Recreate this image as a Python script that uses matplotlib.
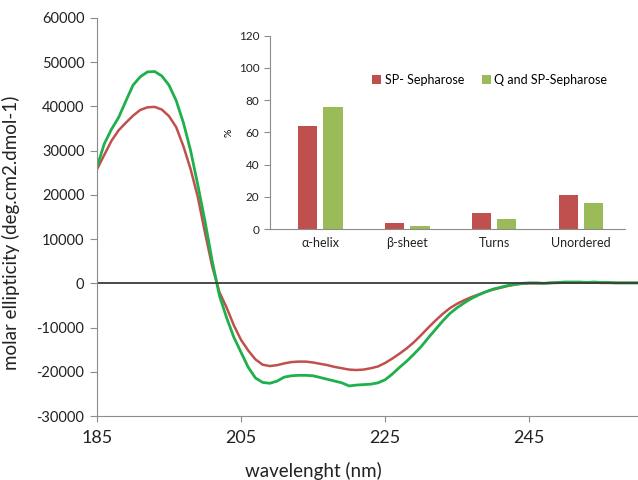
import numpy as np
import matplotlib
matplotlib.use("Agg")
import matplotlib.pyplot as plt

plt.rcParams['font.family'] = ['Lato', 'DejaVu Sans']
plt.rcParams['axes.unicode_minus'] = False

# CD spectra, 1 nm steps from 185 to 260 nm
wavelength = list(range(185, 261))
sp_sepharose = [
    25800, 29000, 32200, 34600, 36300, 37900, 39200, 39800, 39900, 39300,
    37800, 35300, 31000, 25800, 19500, 11400, 3800, -2000, -5500, -9500,
    -12800, -15200, -17200, -18400, -18700, -18500, -18100, -17800, -17700, -17700,
    -17900, -18200, -18500, -18900, -19200, -19500, -19600, -19500, -19200, -18800,
    -18000, -17000, -15900, -14700, -13300, -11700, -10000, -8400, -6900, -5600,
    -4600, -3800, -3100, -2500, -1900, -1400, -1000, -600, -300, -100,
    0, 0, 0, 100, 100, 200, 200, 200, 200, 200,
    100, 100, 100, 100, 100, 100]
q_sp_sepharose = [
    26300, 31500, 34800, 37500, 41200, 44800, 46700, 47800, 47900, 46900,
    44800, 41300, 36300, 30000, 22200, 14000, 5000, -2800, -7800, -12200,
    -15600, -19000, -21400, -22400, -22600, -22100, -21200, -20900, -20800, -20800,
    -20900, -21300, -21700, -22100, -22500, -23200, -23000, -22900, -22800, -22500,
    -21800, -20500, -19000, -17600, -16000, -14300, -12300, -10400, -8500, -6800,
    -5500, -4400, -3400, -2600, -1900, -1300, -900, -500, -200, 0,
    100, 100, 0, 100, 200, 300, 300, 300, 200, 300,
    200, 200, 100, 100, 100, 100]

# secondary structure content (%)
structures = ['\u03b1-helix', '\u03b2-sheet', 'Turns', 'Unordered']
pct_sp = [64, 4, 10, 21]
pct_q_sp = [76, 2, 6, 16]

red = '#C0504D'
green_line = '#1DB04B'
green_bar = '#9BBB59'
grey = '#8C8C8C'
txt = '#222222'

fig = plt.figure(figsize=(6.38, 4.8), dpi=100)
ax = fig.add_axes([0.152, 0.1333, 0.848, 0.8292])

ax.plot(wavelength, sp_sepharose, color=red, lw=1.8, solid_joinstyle='round')
ax.plot(wavelength, q_sp_sepharose, color=green_line, lw=2.0, solid_joinstyle='round')
ax.axhline(0, color='#3a3a3a', lw=1.3)

ax.set_xlim(185, 260.1)
ax.set_ylim(-30000, 60000)
ax.set_xticks([185, 205, 225, 245])
ax.set_yticks(range(-30000, 60001, 10000))
ax.tick_params(axis='y', direction='out', length=5, color=grey, labelsize=10.5, pad=4, labelcolor=txt)
ax.tick_params(axis='x', direction='out', length=4, color=grey, labelsize=13, pad=6, labelcolor=txt)
for s in ['top', 'right']:
    ax.spines[s].set_visible(False)
for s in ['left', 'bottom']:
    ax.spines[s].set_color(grey)
ax.set_xlabel('wavelenght (nm)', fontsize=13.5, color=txt)
ax.xaxis.set_label_coords(0.40, -0.115)
ax.set_ylabel('molar ellipticity (deg.cm2.dmol-1)', fontsize=13.5, color=txt)
ax.yaxis.set_label_coords(-0.142, 0.46)

# inset bar chart
ins = fig.add_axes([0.4232, 0.5229, 0.556, 0.4027])
x = np.arange(len(structures))
w = 0.22
ins.bar(x - 0.145, pct_sp, w, color=red, label='SP- Sepharose')
ins.bar(x + 0.145, pct_q_sp, w, color=green_bar, label='Q and SP-Sepharose')
ins.set_xlim(-0.58, 3.5)
ins.set_ylim(0, 120)
ins.set_yticks(range(0, 121, 20))
ins.set_xticks(x)
ins.set_xticklabels(structures)
ins.tick_params(axis='y', direction='out', length=4, color=grey, labelsize=8.5, labelcolor=txt)
ins.tick_params(axis='x', length=0, labelsize=9, pad=6, labelcolor=txt)
ins.set_ylabel('%', fontsize=7.5, labelpad=4)
for s in ['top', 'right']:
    ins.spines[s].set_visible(False)
for s in ['left', 'bottom']:
    ins.spines[s].set_color(grey)
ins.patch.set_alpha(0)
ins.legend(loc='center', bbox_to_anchor=(0.62, 0.77), ncol=2, frameon=False,
           fontsize=9, handlelength=0.7, handleheight=0.7, handletextpad=0.3,
           columnspacing=1.4)

fig.savefig('out.png', dpi=100)
